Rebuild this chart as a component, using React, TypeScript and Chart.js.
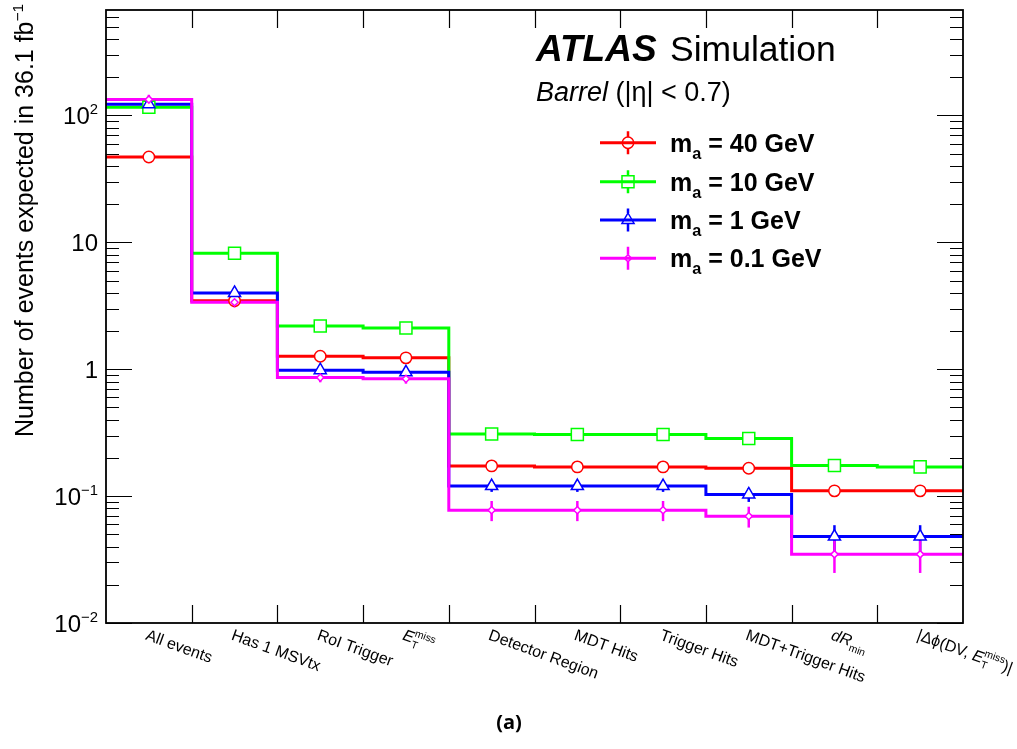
import React, { useEffect, useRef } from "react";
import { Chart, registerables } from "chart.js";

Chart.register(...registerables);

// ---------- data ----------
const categories = [
  "All events",
  "Has 1 MSVtx",
  "RoI Trigger",
  "#it{E}_{T}^{miss}",
  "Detector Region",
  "MDT Hits",
  "Trigger Hits",
  "MDT+Trigger Hits",
  "#it{dR}_{min}",
  "|Δϕ(DV, #it{E}_{T}^{miss})|",
];

const seriesNames = ["m_{a} = 40 GeV", "m_{a} = 10 GeV", "m_{a} = 1 GeV", "m_{a} = 0.1 GeV"];

const m40 = [47.1, 3.47, 1.265, 1.23, 0.173, 0.17, 0.17, 0.166, 0.11, 0.11];
const m10 = [116, 8.21, 2.19, 2.11, 0.309, 0.306, 0.306, 0.284, 0.1745, 0.17];
const m1 = [122.6, 3.99, 0.982, 0.946, 0.12, 0.12, 0.12, 0.103, 0.048, 0.048];
const m01 = [133.6, 3.37, 0.859, 0.84, 0.0775, 0.0775, 0.0775, 0.0695, 0.0348, 0.0348];

const err40 = [1.3, 0.12, 0.04, 0.04, 0.006, 0.006, 0.006, 0.006, 0.004, 0.004];
const err10 = [3, 0.25, 0.07, 0.07, 0.01, 0.01, 0.01, 0.01, 0.006, 0.006];
const err1 = [7, 0.4, 0.1, 0.1, 0.012, 0.012, 0.012, 0.013, 0.011, 0.011];
const err01 = [12, 0.3, 0.07, 0.07, 0.014, 0.014, 0.014, 0.013, 0.01, 0.01];

const yTickValues = [0.01, 0.1, 1, 10, 100];
const yTickLabels = ["10^{−2}", "10^{−1}", "1", "10", "10^{2}"];

const Y_MIN = 0.01;
const Y_MAX = 678;

// ---------- styles ----------
const COLORS = ["#ff0000", "#00ff00", "#0000ff", "#ff00ff"];
const POINT_STYLES = ["circle", "rect", "triangle", "rectRot"];
const POINT_RADII = [5.7, 8.5, 7, 3.6];
const FAMILY = "'Liberation Sans', Arial, Helvetica, sans-serif";

const values = [m40, m10, m1, m01];
const errors = [err40, err10, err1, err01];

type Seg = { t: string; it?: boolean; pos?: "sub" | "sup" };

function parseRich(s: string): Seg[] {
  const segs: Seg[] = [];
  let i = 0;
  let buf = "";
  const flush = () => {
    if (buf) {
      segs.push({ t: buf });
      buf = "";
    }
  };
  while (i < s.length) {
    if (s.startsWith("#it{", i)) {
      flush();
      const j = s.indexOf("}", i);
      segs.push({ t: s.slice(i + 4, j), it: true });
      i = j + 1;
    } else if ((s[i] === "_" || s[i] === "^") && s[i + 1] === "{") {
      flush();
      const j = s.indexOf("}", i);
      segs.push({ t: s.slice(i + 2, j), pos: s[i] === "_" ? "sub" : "sup" });
      i = j + 1;
    } else {
      buf += s[i];
      i++;
    }
  }
  flush();
  return segs;
}

function richPass(
  ctx: CanvasRenderingContext2D,
  text: string,
  x: number,
  y: number,
  size: number,
  bold: boolean,
  draw: boolean,
  supShift = 0.42,
  subShift = 0.28,
  scale = 0.65
): number {
  const segs = parseRich(text);
  let cx = x;
  let stackW = 0;
  for (let k = 0; k < segs.length; k++) {
    const s = segs[k];
    const fs = s.pos ? size * scale : size;
    ctx.font = `${s.it ? "italic " : ""}${bold ? "bold " : ""}${fs}px ${FAMILY}`;
    const dy = s.pos === "sub" ? size * subShift : s.pos === "sup" ? -size * supShift : 0;
    const w = ctx.measureText(s.t).width;
    if (draw) ctx.fillText(s.t, cx, y + dy);
    const next = segs[k + 1];
    if (s.pos === "sub" && next && next.pos === "sup") {
      stackW = w;
      continue;
    }
    if (s.pos === "sup" && stackW > 0) {
      cx += Math.max(w, stackW);
      stackW = 0;
      continue;
    }
    cx += w;
  }
  return cx - x;
}

function drawMarker(ctx: CanvasRenderingContext2D, style: string, x: number, y: number, r: number) {
  ctx.beginPath();
  if (style === "circle") {
    ctx.arc(x, y, r, 0, Math.PI * 2);
  } else if (style === "rect") {
    const s = Math.SQRT1_2 * r;
    ctx.rect(x - s, y - s, 2 * s, 2 * s);
  } else if (style === "triangle") {
    ctx.moveTo(x, y - r);
    ctx.lineTo(x + 0.866 * r, y + 0.5 * r);
    ctx.lineTo(x - 0.866 * r, y + 0.5 * r);
    ctx.closePath();
  } else {
    ctx.moveTo(x, y - r);
    ctx.lineTo(x + r, y);
    ctx.lineTo(x, y + r);
    ctx.lineTo(x - r, y);
    ctx.closePath();
  }
  ctx.stroke();
}

function markerHalfHeight(style: string, r: number): [number, number] {
  if (style === "rect") return [Math.SQRT1_2 * r, Math.SQRT1_2 * r];
  if (style === "triangle") return [r, 0.5 * r];
  return [r, r];
}

const errorBarPlugin = {
  id: "errorBars",
  beforeDatasetsDraw(chart: any) {
    const ctx = chart.ctx as CanvasRenderingContext2D;
    const xs = chart.scales.x;
    const ys = chart.scales.y;
    ctx.save();
    ctx.beginPath();
    ctx.rect(chart.chartArea.left, chart.chartArea.top, chart.chartArea.right - chart.chartArea.left, chart.chartArea.bottom - chart.chartArea.top);
    ctx.clip();
    values.forEach((vals, si) => {
      ctx.strokeStyle = COLORS[si];
      ctx.lineWidth = 2.5;
      vals.forEach((v, i) => {
        const e = errors[si][i];
        const px = xs.getPixelForValue(i + 0.5);
        const y1 = ys.getPixelForValue(v + e);
        const y2 = ys.getPixelForValue(Math.max(v - e, Y_MIN * 1.0001));
        ctx.beginPath();
        ctx.moveTo(px, y1);
        ctx.lineTo(px, y2);
        ctx.stroke();
      });
    });
    ctx.restore();
  },
};

const decorPlugin = {
  id: "decor",
  afterDraw(chart: any) {
    const ctx = chart.ctx as CanvasRenderingContext2D;
    const { left, right, top, bottom } = chart.chartArea;
    const xs = chart.scales.x;
    const ys = chart.scales.y;
    ctx.save();
    ctx.fillStyle = "#000";
    ctx.strokeStyle = "#000";

    // frame
    ctx.lineWidth = 1.8;
    ctx.strokeRect(left, top, right - left, bottom - top);

    // y ticks (both sides)
    ctx.lineWidth = 1.2;
    for (let d = -2; d <= 2; d++) {
      for (let m = 1; m <= 9; m++) {
        const v = m * Math.pow(10, d);
        if (v < Y_MIN || v > Y_MAX) continue;
        const py = Math.round(ys.getPixelForValue(v)) + 0.5;
        const len = m === 1 ? 26 : 13;
        ctx.beginPath();
        ctx.moveTo(left, py);
        ctx.lineTo(left + len, py);
        ctx.moveTo(right, py);
        ctx.lineTo(right - len, py);
        ctx.stroke();
      }
    }

    // x ticks at bin edges
    for (let i = 1; i < categories.length; i++) {
      const px = Math.round(xs.getPixelForValue(i)) + 0.5;
      ctx.beginPath();
      ctx.moveTo(px, bottom);
      ctx.lineTo(px, bottom - 18);
      ctx.moveTo(px, top);
      ctx.lineTo(px, top + 18);
      ctx.stroke();
    }

    // y tick labels
    ctx.textBaseline = "alphabetic";
    yTickValues.forEach((v, i) => {
      const py = ys.getPixelForValue(v);
      const w = richPass(ctx, yTickLabels[i], 0, 0, 24, false, false, 0.4, 0.28, 0.62);
      richPass(ctx, yTickLabels[i], 98 - w, py + 8.6, 24, false, true, 0.4, 0.28, 0.62);
    });

    // x category labels (rotated)
    categories.forEach((c, i) => {
      const px = xs.getPixelForValue(i + 0.5);
      ctx.save();
      ctx.translate(px, 628);
      ctx.rotate((20 * Math.PI) / 180);
      richPass(ctx, c, 0, 12, 16, false, true, 0.45, 0.28, 0.65);
      ctx.restore();
    });

    // y title
    ctx.save();
    ctx.translate(33, 437);
    ctx.rotate(-Math.PI / 2);
    richPass(ctx, "Number of events expected in 36.1 fb^{−1}", 0, 0, 25, false, true, 0.42, 0.28, 0.62);
    ctx.restore();

    // ATLAS Simulation
    ctx.font = `italic bold 37px ${FAMILY}`;
    ctx.fillText("ATLAS", 536, 61);
    ctx.font = `35.5px ${FAMILY}`;
    ctx.fillText("Simulation", 670, 61);
    richPass(ctx, "#it{Barrel} (|η| < 0.7)", 536, 101, 27, false, true);

    // legend
    const ly = [142.7, 181.7, 220, 258.3];
    seriesNames.forEach((name, i) => {
      const y = ly[i];
      const [hu, hd] = markerHalfHeight(POINT_STYLES[i], POINT_RADII[i]);
      ctx.strokeStyle = COLORS[i];
      ctx.lineWidth = 3;
      ctx.beginPath();
      ctx.moveTo(600, y);
      ctx.lineTo(656, y);
      ctx.stroke();
      ctx.lineWidth = 2.5;
      ctx.beginPath();
      ctx.moveTo(628, y - 11.5);
      ctx.lineTo(628, y - hu);
      ctx.moveTo(628, y + hd);
      ctx.lineTo(628, y + 11.5);
      ctx.stroke();
      ctx.lineWidth = 1.5;
      drawMarker(ctx, POINT_STYLES[i], 628, y, POINT_RADII[i]);
      ctx.fillStyle = "#000";
      richPass(ctx, name, 670, y + 8.8, 25, true, true, 0.42, 0.28, 0.65);
    });

    // caption
    ctx.fillStyle = "#000";
    ctx.font = `bold 20px 'Open Sans', 'DejaVu Sans', sans-serif`;
    ctx.textAlign = "center";
    ctx.fillText("(a)", 509, 729);
    ctx.restore();
  },
};

export default function App() {
  const ref = useRef<HTMLCanvasElement | null>(null);

  useEffect(() => {
    if (!ref.current) return;
    const stepSets = values.map((vals, si) => ({
      type: "line" as const,
      label: seriesNames[si] + " hist",
      data: [
        ...vals.map((v, i) => ({ x: i, y: v })),
        { x: vals.length, y: vals[vals.length - 1] },
      ],
      borderColor: COLORS[si],
      borderWidth: 3,
      stepped: true,
      pointRadius: 0,
      fill: false,
      order: 13 - si,
    }));
    const pointSets = values.map((vals, si) => ({
      type: "line" as const,
      label: seriesNames[si],
      data: vals.map((v, i) => ({ x: i + 0.5, y: v })),
      showLine: false,
      pointStyle: POINT_STYLES[si],
      pointRadius: POINT_RADII[si],
      pointBorderWidth: 1.5,
      pointBorderColor: COLORS[si],
      pointBackgroundColor: "#ffffff",
      borderColor: COLORS[si],
      order: 3 - si,
    }));

    const chart = new Chart(ref.current, {
      type: "line",
      data: { datasets: [...stepSets, ...pointSets] as any },
      options: {
        animation: false,
        responsive: false,
        devicePixelRatio: 1,
        layout: { padding: { left: 106, right: 54, top: 7, bottom: 126 } },
        plugins: { legend: { display: false }, tooltip: { enabled: false } },
        scales: {
          x: { type: "linear", min: 0, max: categories.length, display: false },
          y: { type: "logarithmic", min: Y_MIN, max: Y_MAX, display: false },
        },
      },
      plugins: [errorBarPlugin, decorPlugin],
    });
    return () => chart.destroy();
  }, []);

  return (
    <div style={{ position: "absolute", left: 0, top: 0, width: 1017, height: 749, background: "#fff" }}>
      <canvas ref={ref} width={1017} height={749} style={{ width: 1017, height: 749, display: "block" }} />
    </div>
  );
}
